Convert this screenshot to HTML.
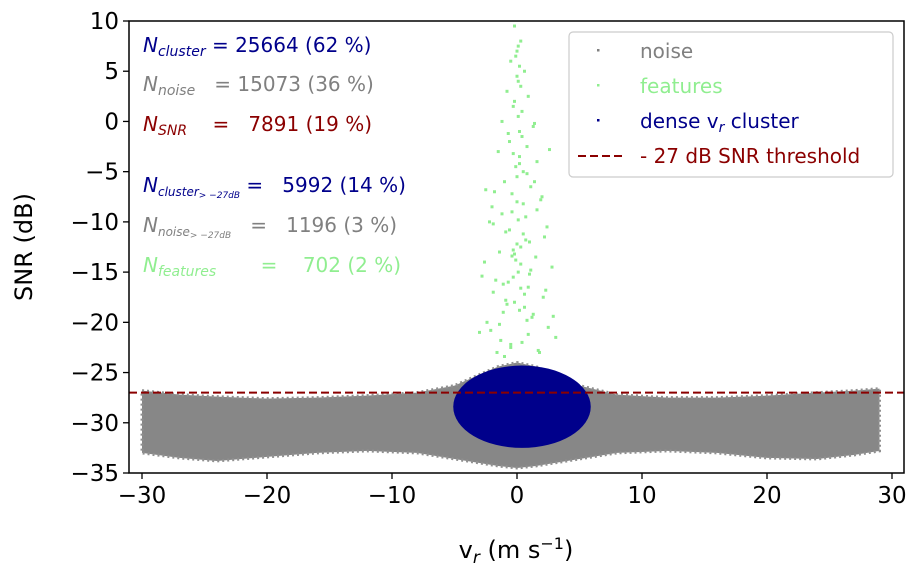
<!DOCTYPE html>
<html><head><meta charset="utf-8"><style>
html,body{margin:0;padding:0;background:#fff;}
svg{display:block;font-family:"DejaVu Sans","Liberation Sans",sans-serif;}
.pre text{white-space:pre;}
</style></head><body>
<svg id="chart" width="919" height="576">
<g id="marks"></g>
<g id="axes"></g>
</svg>
<script>
// ---- data ----
const noiseVr     = [-30, -27, -24, -20, -16, -12, -8, -5, -3, -1.5, 0, 1.5, 3, 5, 8, 12, 16, 20, 24, 27, 29];
const noiseTop    = [-26.8, -27.2, -27.4, -27.6, -27.5, -27.3, -27.0, -26.3, -25.2, -24.4, -24.0, -24.4, -25.2, -26.3, -27.2, -27.5, -27.5, -27.3, -27.0, -26.8, -26.6];
const noiseBottom = [-33.0, -33.5, -33.8, -33.4, -33.0, -32.8, -33.0, -33.6, -34.0, -34.3, -34.5, -34.3, -34.0, -33.6, -33.0, -32.8, -33.0, -33.5, -33.6, -33.2, -32.8];
const clusterCenter = [0.4, -28.4];
const clusterRadius = [5.5, 4.1];
const featVr  = [-0.2,0.3,0.0,-0.5,0.6,0.1,-0.8,0.9,-0.3,0.4,-1.2,1.3,0.2,-0.6,0.8,-1.5,1.6,-0.1,0.5,-1.0,1.1,-1.8,2.0,0.0,-0.4,0.7,-2.2,2.4,-0.9,1.0,0.3,-1.4,1.5,-2.6,2.8,0.1,-0.7,0.9,-1.9,2.1,-0.2,0.6,-1.1,1.2,-2.4,2.5,-3.0,3.1,0.4,-0.5,1.8,-1.6,0.2,-2.0,2.2,-0.3,0.8,-1.3,1.4,-0.1,
  0.1,-0.1,0.2,0.0,0.3,-0.2,0.1,0.4,-0.3,0.2,0.0,-0.4,0.5,0.1,-0.6,0.7,-0.2,0.3,1.0,-1.1,0.6,-0.8,1.3,-1.4,0.9,-0.5,1.7,-2.1,0.2,-0.9,2.3,-1.7,1.1,-0.3,0.5,-1.2,1.9,-2.5,0.8,2.6,-0.7,1.4,-1.9,0.0,1.6,-1.0,2.9,-2.8,0.3,-0.4];
const featSnr = [9.5,8,7,6,5,4,3,2.5,1.5,1,0,-0.5,-1,-2,-2.5,-3,-4,-4.5,-5,-6,-6.5,-7,-7.5,-8,-9,-9.5,-10,-10.5,-11,-12,-12.5,-13,-13.5,-14,-14.5,-15,-16,-16.5,-17,-17.5,-18,-18.5,-19,-19.5,-20,-20.5,-21,-21.5,-22,-22.5,-23,-23,-3.5,-8.5,-11.5,-15.5,-19.8,-21.8,-6,-13.8,
  7.5,6.5,5.5,4.5,3.5,2,0.5,-1.5,-3.2,-4.2,-5.5,-7.2,-8.2,-9.8,-10.8,-11.8,-13.2,-14.2,-15.2,-16.2,-17.2,-18.2,-19.2,-20.2,-21.2,-22.2,-22.8,-20.8,-18.8,-17.8,-16.8,-15.8,-14.8,-12.8,-11.2,-9.2,-7.8,-6.8,-5.2,-2.8,-1.2,-0.2,-10.2,-12.2,-8.8,-23.4,-19.4,-15.4,-16.6,-13.4];
const xTicks = [-30, -20, -10, 0, 10, 20, 30];
const yTicks = [10, 5, 0, -5, -10, -15, -20, -25, -30, -35];
const threshold = -27;

// ---- axes ----
const L=129,R=904,T=21,B=473;
const xMin=-31.04, xMax=30.96, yMin=-35, yMax=10;
const X=v=>L+(v-xMin)/(xMax-xMin)*(R-L);
const Y=v=>B-(v-yMin)/(yMax-yMin)*(B-T);
const NS="http://www.w3.org/2000/svg";
function mk(tag,attrs,parent,text){const e=document.createElementNS(NS,tag);for(const k in attrs)e.setAttribute(k,attrs[k]);if(text!==undefined)e.textContent=text;parent.appendChild(e);return e;}
const marks=document.getElementById('marks'), axes=document.getElementById('axes');

let d='M'+noiseVr.map((v,i)=>X(v)+','+Y(noiseTop[i])).join(' L');
for(let i=noiseVr.length-1;i>=0;i--) d+=' L'+X(noiseVr[i])+','+Y(noiseBottom[i]);
const band=mk('path',{d:d+' Z',fill:'#878787',stroke:'#909090','stroke-width':3,'stroke-dasharray':'2,3'},marks);



const cl=mk('ellipse',{cx:X(clusterCenter[0]),cy:Y(clusterCenter[1]),rx:X(clusterCenter[0]+clusterRadius[0])-X(clusterCenter[0]),ry:Y(clusterCenter[1]-clusterRadius[1])-Y(clusterCenter[1]),fill:'#00008b'},marks);



featVr.forEach((v,i)=>{
  const p=mk('rect',{x:X(v)-1.5,y:Y(featSnr[i])-1.5,width:3,height:3,fill:'#90ee90'},marks);
  
  
});

const th=mk('line',{x1:L,x2:R,y1:Y(threshold),y2:Y(threshold),stroke:'#8b0000','stroke-width':2,'stroke-dasharray':'8,4'},marks);



const fr=mk('rect',{x:L,y:T,width:R-L,height:B-T,fill:'none',stroke:'#000','stroke-width':1.5},axes);



xTicks.forEach(t=>{
  mk('line',{x1:X(t),x2:X(t),y1:B,y2:B+6,stroke:'#000','stroke-width':1.3},axes);
  const lb=mk('text',{x:X(t),y:B+30,'text-anchor':'middle','font-size':23},axes,String(t).replace('-','\u2212'));
  
  
});
yTicks.forEach(t=>{
  mk('line',{x1:L-6,x2:L,y1:Y(t),y2:Y(t),stroke:'#000','stroke-width':1.3},axes);
  const lb=mk('text',{x:L-10,y:Y(t)+8,'text-anchor':'end','font-size':23},axes,String(t).replace('-','\u2212'));
  
  
});
</script>
<svg class="pre" style="position:absolute;left:0;top:0" width="919" height="576">
<g font-family="DejaVu Sans, Liberation Sans, sans-serif">
<text x="32" y="247" font-size="24" text-anchor="middle" transform="rotate(-90 32 247)">SNR (dB)</text>
<text x="516" y="558" font-size="24" text-anchor="middle">v<tspan font-style="italic" font-size="17" dy="5">r</tspan><tspan dy="-5"> (m s</tspan><tspan font-size="16" dy="-9">−1</tspan><tspan dy="9">)</tspan></text>

<g font-size="20">
<text x="143" y="52" fill="#00008b"><tspan font-style="italic">N</tspan><tspan font-style="italic" font-size="14" dy="4">cluster</tspan><tspan dy="-4"> = 25664 (62 %)</tspan></text>
<text x="143" y="91" fill="#808080"><tspan font-style="italic">N</tspan><tspan font-style="italic" font-size="14" dy="4">noise</tspan><tspan dy="-4">   = 15073 (36 %)</tspan></text>
<text x="143" y="131" fill="#8b0000"><tspan font-style="italic">N</tspan><tspan font-style="italic" font-size="14" dy="4">SNR</tspan><tspan dy="-4">    =   7891 (19 %)</tspan></text>
<text x="143" y="192" fill="#00008b"><tspan font-style="italic">N</tspan><tspan font-style="italic" font-size="12" dy="4">cluster</tspan><tspan font-style="italic" font-size="9" dy="2">&gt; −27dB</tspan><tspan dy="-6"> =   5992 (14 %)</tspan></text>
<text x="143" y="232" fill="#808080"><tspan font-style="italic">N</tspan><tspan font-style="italic" font-size="12" dy="4">noise</tspan><tspan font-style="italic" font-size="9" dy="2">&gt; −27dB</tspan><tspan dy="-6">   =   1196 (3 %)</tspan></text>
<text x="143" y="272" fill="#90ee90"><tspan font-style="italic">N</tspan><tspan font-style="italic" font-size="14" dy="4">features</tspan><tspan dy="-4">       =    702 (2 %)</tspan></text>
</g>

<g>
<rect x="569" y="32" width="324" height="145" rx="4" fill="#fff" fill-opacity="0.85" stroke="#ccc" stroke-width="1.2"/>
<rect x="597" y="49" width="2.5" height="2.5" fill="#808080"/>
<text x="640" y="58" font-size="20" fill="#808080">noise</text>
<rect x="597" y="84" width="2.5" height="2.5" fill="#90ee90"/>
<text x="640" y="93" font-size="20" fill="#90ee90">features</text>
<rect x="597" y="119" width="2.5" height="2.5" fill="#00008b"/>
<text x="640" y="128" font-size="20" fill="#00008b">dense v<tspan font-style="italic" font-size="14" dy="4">r</tspan><tspan dy="-4"> cluster</tspan></text>
<line x1="578" x2="622" y1="156" y2="156" stroke="#8b0000" stroke-width="2" stroke-dasharray="8,4"/>
<text x="640" y="163" font-size="20" fill="#8b0000">- 27 dB SNR threshold</text>
</g>
</g>
</svg>
</body></html>
